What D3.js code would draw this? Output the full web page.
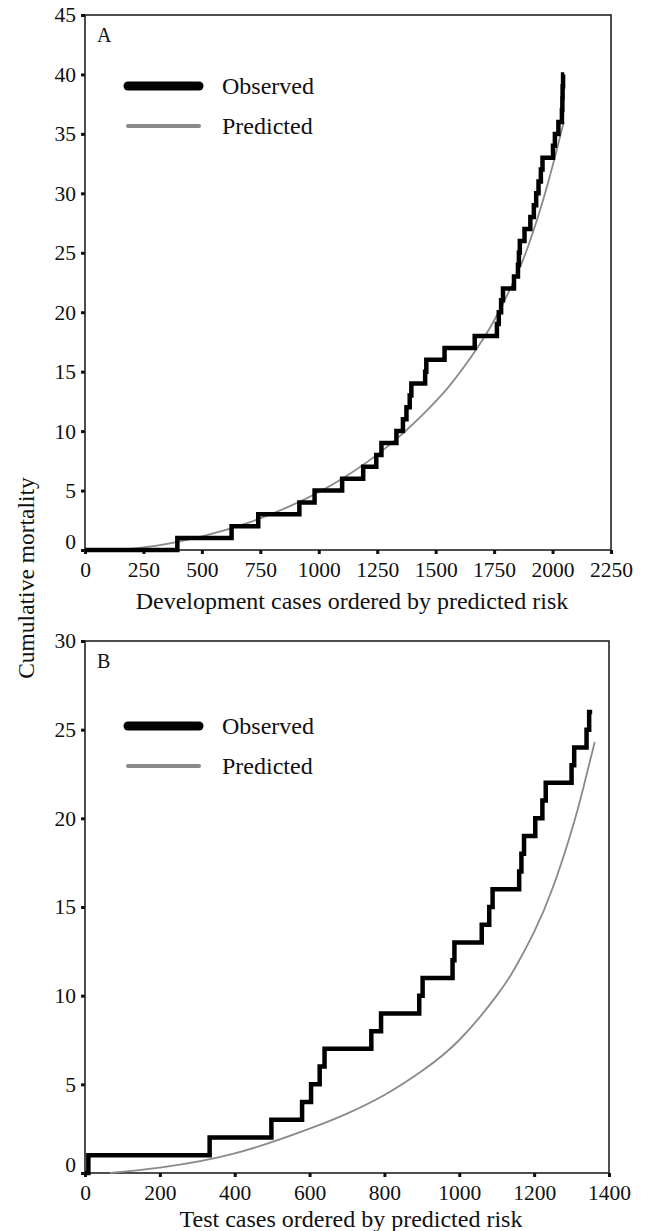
<!DOCTYPE html>
<html>
<head>
<meta charset="utf-8">
<script src="https://cdn.jsdelivr.net/npm/d3@7"></script>
<style>
  body { margin: 0; background: #fff; }
  svg text { font-family: "Liberation Serif", "DejaVu Serif", serif; fill: #111; }
</style>
</head>
<body>
<div id="canvas"></div>
<script>

// panel A: development cases [case index, cumulative deaths]
const devObserved = [
    [0, 0], [395, 1], [627, 2], [741, 3], [917, 4], [982, 5], [1100, 6], [1190, 7],
    [1246, 8], [1268, 9], [1332, 10], [1360, 11], [1375, 12], [1389, 13], [1396, 14],
    [1455, 15], [1460, 16], [1538, 17], [1667, 18], [1762, 19], [1770, 20], [1780, 21],
    [1788, 22], [1835, 23], [1852, 24], [1856, 25], [1860, 26], [1880, 27], [1905, 28],
    [1920, 29], [1930, 30], [1940, 31], [1950, 32], [1957, 33], [2002, 34], [2010, 35],
    [2025, 36], [2040, 37], [2042, 38], [2043, 39], [2045, 40], [2050, 40]
];
const devPredicted = [
    [130, 0], [300, 0.35], [500, 1.15], [700, 2.3], [900, 3.9], [1100, 6.0], [1300, 8.8],
    [1450, 11.5], [1550, 13.6], [1650, 16.2], [1750, 19.3], [1850, 23.3], [1900, 25.8],
    [1950, 28.8], [2000, 32.3], [2030, 34.6], [2048, 36]
];

// panel B: test cases
const testObserved = [
    [0, 0], [9, 1], [333, 2], [498, 3], [580, 4], [604, 5], [627, 6], [640, 7],
    [765, 8], [791, 9], [893, 10], [902, 11], [982, 12], [987, 13], [1060, 14],
    [1080, 15], [1089, 16], [1160, 17], [1166, 18], [1173, 19], [1203, 20], [1222, 21],
    [1231, 22], [1300, 23], [1307, 24], [1340, 25], [1347, 26], [1355, 26]
];
const testPredicted = [
    [67, 0], [200, 0.3], [400, 1.1], [600, 2.5], [700, 3.35], [800, 4.4], [900, 5.75],
    [1000, 7.5], [1100, 10.0], [1150, 11.6], [1200, 13.6], [1250, 16.1], [1300, 19.3],
    [1330, 21.6], [1350, 23.3], [1362, 24.3]
];

const devTicksX = [0, 250, 500, 750, 1000, 1250, 1500, 1750, 2000, 2250];
const devTicksY = [0, 5, 10, 15, 20, 25, 30, 35, 40, 45];
const testTicksX = [0, 200, 400, 600, 800, 1000, 1200, 1400];
const testTicksY = [0, 5, 10, 15, 20, 25, 30];

const seriesNames = ["Observed", "Predicted"];

const width = 645;
const height = 1231;

const svg = d3.select("#canvas")
    .append("svg")
    .attr("width", width)
    .attr("height", height);

// y axis title shared by both panels
svg.append("text")
    .attr("transform", "translate(34,578) rotate(-90)")
    .attr("text-anchor", "middle")
    .style("font-size", "23.5px")
    .text("Cumulative mortality");

drawPanel({
    left: 85, right: 611, top: 15, bottom: 550,
    xMax: 2250, yMax: 45,
    xTicks: devTicksX, yTicks: devTicksY,
    observed: devObserved, predicted: devPredicted,
    letter: "A", legendY: 86,
    title: "Development cases ordered by predicted risk", titleY: 609
});

drawPanel({
    left: 85, right: 609, top: 641, bottom: 1173,
    xMax: 1400, yMax: 30,
    xTicks: testTicksX, yTicks: testTicksY,
    observed: testObserved, predicted: testPredicted,
    letter: "B", legendY: 726,
    title: "Test cases ordered by predicted risk", titleY: 1227
});

function drawPanel(p) {
    const x = d3.scaleLinear().domain([0, p.xMax]).range([p.left, p.right]);
    const y = d3.scaleLinear().domain([0, p.yMax]).range([p.bottom, p.top]);

    const g = svg.append("g");

    // frame
    g.append("rect")
        .attr("x", p.left)
        .attr("y", p.top)
        .attr("width", p.right - p.left)
        .attr("height", p.bottom - p.top)
        .style("fill", "none")
        .style("stroke", "#222")
        .style("stroke-width", 1.6);

    // axes
    const yAxis = g.append("g")
        .attr("transform", `translate(${p.left},0)`)
        .call(d3.axisLeft(y).tickValues(p.yTicks).tickFormat(d3.format("d")).tickSize(4).tickPadding(5));
    const xAxis = g.append("g")
        .attr("transform", `translate(0,${p.bottom})`)
        .call(d3.axisBottom(x).tickValues(p.xTicks).tickFormat(d3.format("d")).tickSize(4).tickPadding(8));

    [yAxis, xAxis].forEach(a => {
        a.select(".domain").remove();
        a.selectAll("line").style("stroke", "#111").style("stroke-width", 3);
        a.selectAll("text")
            .style("font-size", "21.5px")
            .style("font-family", "'Liberation Serif', serif");
    });
    // the zero label sits a little above the corner
    yAxis.selectAll("text").filter(d => d === 0).attr("dy", "-0.05em");

    // predicted curve
    g.append("path")
        .datum(p.predicted)
        .attr("d", d3.line().x(d => x(d[0])).y(d => y(d[1])).curve(d3.curveNatural))
        .style("fill", "none")
        .style("stroke", "#8a8a8a")
        .style("stroke-width", 1.8);

    // observed step curve
    g.append("path")
        .datum(p.observed)
        .attr("d", d3.line().x(d => x(d[0])).y(d => y(d[1])).curve(d3.curveStepAfter))
        .style("fill", "none")
        .style("stroke", "#000")
        .style("stroke-width", 4.5)
        .style("stroke-linejoin", "miter");

    // panel letter
    g.append("text")
        .attr("x", p.left + 12)
        .attr("y", p.top + 27)
        .style("font-size", "20px")
        .text(p.letter);

    // legend
    const legend = g.append("g");
    seriesNames.forEach((name, i) => {
        const ly = p.legendY + i * 40;
        legend.append("line")
            .attr("x1", 128).attr("x2", 199)
            .attr("y1", ly).attr("y2", ly)
            .style("stroke", i === 0 ? "#000" : "#8a8a8a")
            .style("stroke-width", i === 0 ? 9 : 4)
            .style("stroke-linecap", "round");
        legend.append("text")
            .attr("x", 222)
            .attr("y", ly + 8)
            .style("font-size", "24px")
            .text(name);
    });

    // x axis title
    g.append("text")
        .attr("x", (p.left + p.right) / 2 + 4)
        .attr("y", p.titleY)
        .attr("text-anchor", "middle")
        .style("font-size", "24px")
        .text(p.title);
}
</script>
</body>
</html>
